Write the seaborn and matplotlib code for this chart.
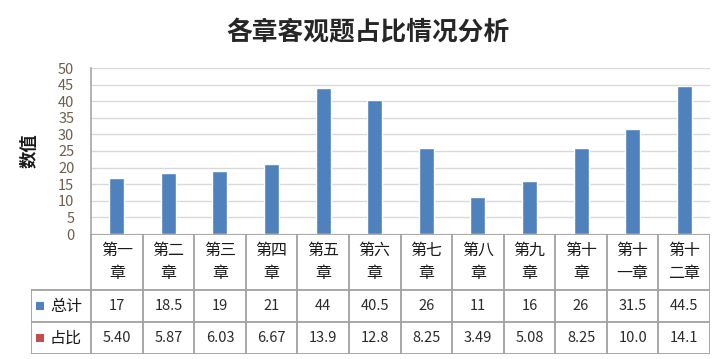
import numpy as np
import pandas as pd
import matplotlib
matplotlib.use("Agg")
import matplotlib.pyplot as plt
import seaborn as sns
from matplotlib.patches import Rectangle

# Data
chapters = ['第一章', '第二章', '第三章', '第四章', '第五章', '第六章',
            '第七章', '第八章', '第九章', '第十章', '第十一章', '第十二章']
totals = [17, 18.5, 19, 21, 44, 40.5, 26, 11, 16, 26, 31.5, 44.5]
ratios = ['5.40', '5.87', '6.03', '6.67', '13.9', '12.8',
          '8.25', '3.49', '5.08', '8.25', '10.0', '14.1']
series_names = ['总计', '占比']
series_colors = ['#4F81BD', '#C0504D']
y_ticks = list(range(0, 55, 5))

sns.set_style('white')
plt.rcParams['font.family'] = ['Noto Sans CJK SC', 'DejaVu Sans']

W, H = 715, 359
fig = plt.figure(figsize=(W / 100, H / 100), dpi=100)

# plot area in pixels
px0, px1, py0, py1 = 91, 710, 68, 234
ax = fig.add_axes([px0 / W, 1 - py1 / H, (px1 - px0) / W, (py1 - py0) / H])

df = pd.DataFrame({'chapter': chapters, 'total': totals})
sns.barplot(data=df, x='chapter', y='total', color=series_colors[0],
            width=0.29, saturation=1, ax=ax, zorder=3)

ax.set_xlim(-0.5, len(chapters) - 0.5)
ax.set_ylim(0, 50)
ax.set_yticks(y_ticks)
ax.tick_params(axis='y', length=0, pad=12, labelsize=10.5, labelcolor='#6e5f4e')
ax.set_xticks([])
ax.set_xlabel('')
ax.set_ylabel('')
ax.yaxis.grid(True, color='#D9D9D9', lw=1, zorder=0)
for s in ['top', 'right', 'bottom']:
    ax.spines[s].set_visible(False)
ax.spines['left'].set_color('#A6A6A6')
ax.spines['left'].set_linewidth(1.2)

fig.text(30 / W, 1 - 151 / H, '数值', rotation=90, ha='center', va='center',
         fontsize=12.5, fontweight='bold', color='#1a1a1a')
fig.text(368 / W, 1 - 33 / H, '各章客观题占比情况分析', ha='center', va='center',
         fontsize=18.5, fontweight='bold', color='#262626')

# data table below the plot area
tx0, ty1 = 31, 354
cat_w = (px1 - px0) / len(chapters)
left_w = (px0 - tx0) / cat_w
tax = fig.add_axes([tx0 / W, 1 - ty1 / H, (px1 - tx0) / W, (ty1 - py1) / H])
tax.set_xlim(-0.5 - left_w, len(chapters) - 0.5)
tax.set_ylim(ty1 - py1, 0)
tax.axis('off')

line_kw = dict(color='#A0A0A0', lw=1.3, solid_capstyle='projecting')
hdr, r1, r2 = 56, 88, 120
xl = -0.5 - left_w
xr = len(chapters) - 0.5
tax.plot([-0.5, xr], [0, 0], **line_kw)
tax.plot([xl, xr], [hdr, hdr], **line_kw)
tax.plot([xl, xr], [r1, r1], **line_kw)
tax.plot([xl, xr], [r2, r2], **line_kw)
tax.plot([xl, xl], [hdr, r2], **line_kw)
for i in range(len(chapters) + 1):
    tax.plot([i - 0.5, i - 0.5], [0, r2], **line_kw)

for i, ch in enumerate(chapters):
    tax.text(i, hdr / 2, ch[:2] + '\n' + ch[2:], ha='center', va='center',
             fontsize=11.5, linespacing=1.45, color='#1a1a1a')
    v = totals[i]
    tax.text(i, (hdr + r1) / 2, f'{v:g}', ha='center', va='center',
             fontsize=10.5, color='#2b2b2b')
    tax.text(i, (r1 + r2) / 2, ratios[i], ha='center', va='center',
             fontsize=10.5, color='#2b2b2b')

for k, (name, col) in enumerate(zip(series_names, series_colors)):
    yc = (hdr + r1) / 2 if k == 0 else (r1 + r2) / 2
    sq = 8 / cat_w
    tax.add_patch(Rectangle((xl + 5 / cat_w, yc - 4), sq, 8, color=col, lw=0))
    tax.text(xl + 19 / cat_w, yc, name, ha='left', va='center',
             fontsize=11.5, color='#1a1a1a')

fig.savefig('out.png', dpi=100)
